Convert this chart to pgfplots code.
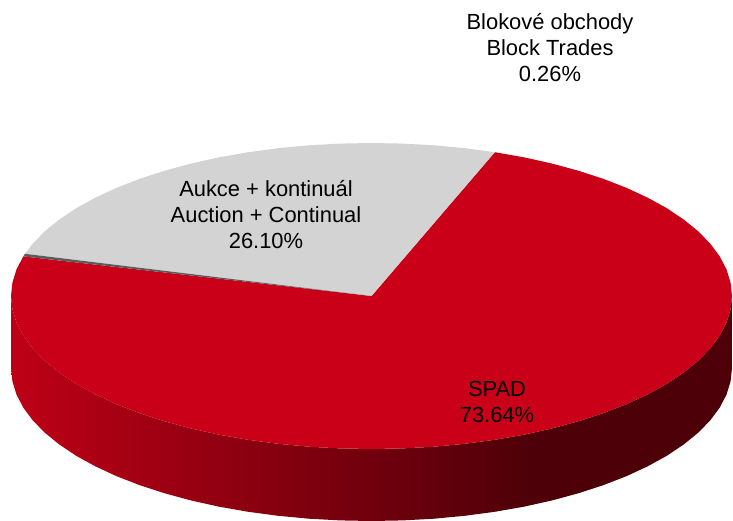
\documentclass[border=0pt]{standalone}
\usepackage{fontspec}
\setmainfont{Liberation Sans}
\usepackage{pgfplots}
\pgfplotsset{compat=1.18}
\definecolor{spadred}{RGB}{201,0,24}
\definecolor{aukcegray}{RGB}{211,211,211}
\definecolor{blockgray}{RGB}{88,92,92}
\definecolor{wallL}{RGB}{190,0,22}
\definecolor{wallD}{RGB}{78,0,8}
\pgfdeclarehorizontalshading{wallshade}{100bp}{color(0bp)=(wallL); color(25bp)=(wallL); color(61bp)=(wallD); color(100bp)=(wallD)}
\tikzset{lab/.style={font=\fontsize{21.9}{25.6}\selectfont, align=center, text=black}}
\begin{document}
\begin{tikzpicture}
\begin{axis}[
    scale only axis,
    width=733pt,
    height=521pt,
    xmin=0, xmax=733,
    ymin=0, ymax=521,
    y dir=reverse,
    hide axis,
]
% side wall, front half of the disc
\addplot[shade, shading=wallshade, draw=none] coordinates {
(11.0,296.0) (12.4,309.3) (16.5,322.6) (23.3,335.6) (32.7,348.3) (44.8,360.7)
(59.3,372.5) (76.2,383.8) (95.3,394.3) (116.6,404.2) (139.8,413.2) (164.7,421.3)
(191.2,428.5) (219.1,434.7) (248.2,439.8) (278.2,443.8) (308.9,446.7) (340.1,448.4)
(371.5,449.0) (402.9,448.4) (434.1,446.7) (464.8,443.8) (494.8,439.8) (523.9,434.7)
(551.8,428.5) (578.3,421.3) (603.2,413.2) (626.4,404.2) (647.7,394.3) (666.8,383.8)
(683.7,372.5) (698.2,360.7) (710.3,348.3) (719.7,335.6) (726.5,322.6) (730.6,309.3)
(732.0,296.0)
(732.0,368.0) (730.6,381.3) (726.5,394.6) (719.7,407.6) (710.3,420.3) (698.2,432.7)
(683.7,444.5) (666.8,455.8) (647.7,466.3) (626.4,476.2) (603.2,485.2) (578.3,493.3)
(551.8,500.5) (523.9,506.7) (494.8,511.8) (464.8,515.8) (434.1,518.7) (402.9,520.4)
(371.5,521.0) (340.1,520.4) (308.9,518.7) (278.2,515.8) (248.2,511.8) (219.1,506.7)
(191.2,500.5) (164.7,493.3) (139.8,485.2) (116.6,476.2) (95.3,466.3) (76.2,455.8)
(59.3,444.5) (44.8,432.7) (32.7,420.3) (23.3,407.6) (16.5,394.6) (12.4,381.3)
(11.0,368.0)
} -- cycle;
% SPAD 73.64
\addplot[fill=spadred, draw=none] coordinates {
(371.5,296.0) (494.8,152.2) (523.9,157.3) (551.8,163.5) (578.3,170.7) (603.2,178.8)
(626.4,187.8) (647.7,197.7) (666.8,208.2) (683.7,219.5) (698.2,231.3) (710.3,243.7)
(719.7,256.4) (726.5,269.4) (730.6,282.7) (732.0,296.0)
(730.6,309.3) (726.5,322.6) (719.7,335.6) (710.3,348.3) (698.2,360.7)
(683.7,372.5) (666.8,383.8) (647.7,394.3) (626.4,404.2) (603.2,413.2) (578.3,421.3)
(551.8,428.5) (523.9,434.7) (494.8,439.8) (464.8,443.8) (434.1,446.7) (402.9,448.4)
(371.5,449.0) (340.1,448.4) (308.9,446.7) (278.2,443.8) (248.2,439.8) (219.1,434.7)
(191.2,428.5) (164.7,421.3) (139.8,413.2) (116.6,404.2) (95.3,394.3) (76.2,383.8)
(59.3,372.5) (44.8,360.7) (32.7,348.3) (23.3,335.6) (16.5,322.6) (12.4,309.3)
(11.0,296.0) (12.4,282.7) (16.5,269.4) (23.3,256.4)
} -- cycle;
% Aukce + kontinual 26.10
\addplot[fill=aukcegray, draw=none] coordinates {
(371.5,296.0) (494.8,152.2) (464.8,148.2) (434.1,145.3) (402.9,143.6)
(371.5,143.0) (340.1,143.6) (308.9,145.3) (278.2,148.2) (248.2,152.2) (219.1,157.3)
(191.2,163.5) (164.7,170.7) (139.8,178.8) (116.6,187.8) (95.3,197.7) (76.2,208.2)
(59.3,219.5) (44.8,231.3) (32.7,243.7) (25.0,253.8)
} -- cycle;
% Blokove obchody 0.26
\addplot[fill=blockgray, draw=none] coordinates {
(371.5,296.0) (25.0,253.8) (23.3,256.4)
} -- cycle;
\node[lab] at (axis cs:550,47.5) {Blokové obchody\\Block Trades\\0.26\%};
\node[lab] at (axis cs:266,214.5) {Aukce + kontinuál\\Auction + Continual\\26.10\%};
\node[lab] at (axis cs:497,402) {SPAD\\73.64\%};
\coordinate (pageA) at (axis cs:0,0);
\coordinate (pageB) at (axis cs:733,521);
\end{axis}
\path[use as bounding box] (pageA) rectangle (pageB);
\end{tikzpicture}
\end{document}
